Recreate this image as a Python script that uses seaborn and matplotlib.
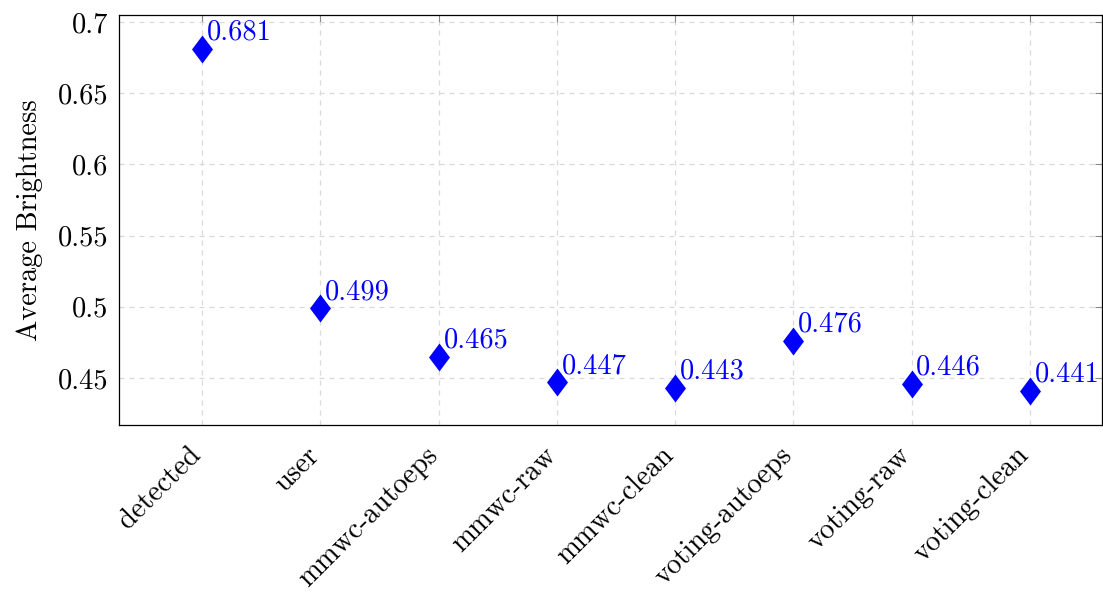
import matplotlib
matplotlib.use("Agg")
import matplotlib.pyplot as plt
import matplotlib.transforms as mtransforms
from matplotlib.path import Path
from matplotlib.ticker import FixedLocator, FuncFormatter
import seaborn as sns
import pandas as pd

# Average brightness per method
methods = ["detected", "user", "mmwc-autoeps", "mmwc-raw", "mmwc-clean",
           "voting-autoeps", "voting-raw", "voting-clean"]
brightness = [0.681, 0.499, 0.465, 0.447, 0.443, 0.476, 0.446, 0.441]
y_ticks = [0.45, 0.5, 0.55, 0.6, 0.65, 0.7]

df = pd.DataFrame({"method": methods, "brightness": brightness})

sns.set_theme(style="white")
plt.rcParams["font.family"] = ["cmr10", "DejaVu Serif"]
plt.rcParams["axes.formatter.use_mathtext"] = True
plt.rcParams["mathtext.fontset"] = "cm"
plt.rcParams["text.color"] = "black"
plt.rcParams["axes.labelcolor"] = "black"
plt.rcParams["xtick.color"] = "black"
plt.rcParams["ytick.color"] = "black"

FS = 20.5

fig = plt.figure(figsize=(11.03, 5.92), dpi=100)
ax = fig.add_axes([0.108, 0.282, 0.891, 0.693])

# Diamond marker, wider than matplotlib's thin diamond
diamond = Path([(0, 1), (0.75, 0), (0, -1), (-0.75, 0), (0, 1)],
               [Path.MOVETO, Path.LINETO, Path.LINETO, Path.LINETO, Path.CLOSEPOLY])

sns.scatterplot(data=df, x="method", y="brightness", marker=diamond, s=405,
                color="blue", linewidth=0, ax=ax, zorder=3)

for i, v in enumerate(brightness):
    ax.annotate(f"{v:.3f}", (i, v), xytext=(3.4, 6.5), textcoords="offset points",
                ha="left", va="baseline", color="blue", fontsize=FS, zorder=4)

ax.set_xlim(-0.703, 7.61)
ax.set_ylim(0.417, 0.705)
ax.yaxis.set_major_locator(FixedLocator(y_ticks))
ax.yaxis.set_major_formatter(FuncFormatter(lambda v, p: f"{v:g}"))

ax.set_xlabel("")
ax.set_ylabel("Average Brightness", fontsize=FS, labelpad=10)

ax.grid(True, color="#d9d9d9", linestyle=(0, (4, 4)), linewidth=0.9, zorder=0)
ax.set_axisbelow(True)

ax.tick_params(axis="both", which="major", direction="in", length=5, width=0.8,
               color="#888888", labelcolor="black", labelsize=FS, top=True, right=True)
ax.tick_params(axis="y", pad=8)
ax.tick_params(axis="x", pad=19)

# Rotated category labels, anchored at their right end just left of each tick
shift = mtransforms.ScaledTranslation(-5 / 100, 0, fig.dpi_scale_trans)
for lbl in ax.get_xticklabels():
    lbl.set_rotation(45)
    lbl.set_ha("right")
    lbl.set_va("center")
    lbl.set_rotation_mode("anchor")
    lbl.set_transform(lbl.get_transform() + shift)

for s in ax.spines.values():
    s.set_visible(True)
    s.set_color("black")
    s.set_linewidth(0.9)

fig.savefig("out.png", dpi=100)
